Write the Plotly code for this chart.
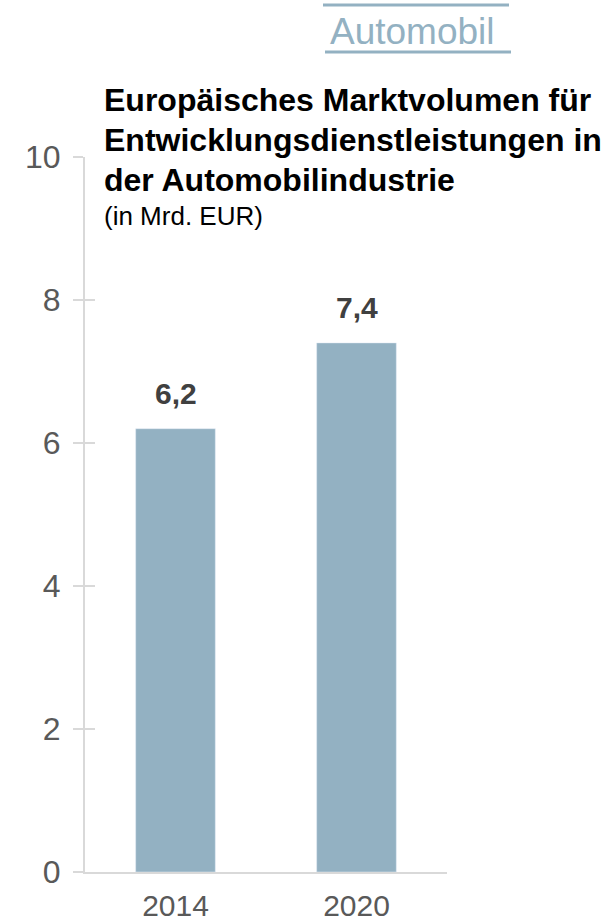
import plotly.graph_objects as go

# Market volume data
years = ["2014", "2020"]
volumes = [6.2, 7.4]
value_labels = ["6,2", "7,4"]

title_lines = [
    "Europäisches Marktvolumen für",
    "Entwicklungsdienstleistungen in",
    "der Automobilindustrie",
]
subtitle = "(in Mrd. EUR)"
section_label = "Automobil"

BAR_COLOR = "#93b1c2"
AXIS_COLOR = "#d9d9d9"
TICK_FONT_COLOR = "#595959"
FONT = "Liberation Sans, Arial, sans-serif"

W, H = 615, 923
M_L, M_R, M_T, M_B = 85, 168, 157, 51
plot_h = H - M_T - M_B


def py(px):
    """Convert a pixel row to paper y coordinate."""
    return (H - M_B - px) / plot_h


def px_x(px):
    """Convert a pixel column to paper x coordinate."""
    return (px - M_L) / (W - M_L - M_R)


fig = go.Figure()
fig.add_trace(go.Bar(
    x=years, y=volumes, marker_color=BAR_COLOR, width=0.44,
    hoverinfo="skip", showlegend=False,
))
# invisible trace for the secondary axis carrying inward tick marks
fig.add_trace(go.Scatter(x=years, y=volumes, yaxis="y2", mode="none",
                         showlegend=False, hoverinfo="skip"))

annotations = []
for i, (v, lab) in enumerate(zip(volumes, value_labels)):
    annotations.append(dict(
        x=i, y=v, xref="x", yref="y", text=f"<b>{lab}</b>", showarrow=False,
        yanchor="bottom", yshift=17,
        font=dict(family=FONT, size=30, color="#404040"),
    ))

title_rows = [100, 140, 180]
for line, ypx in zip(title_lines, title_rows):
    annotations.append(dict(
        x=px_x(102), y=py(ypx), xref="paper", yref="paper", xanchor="left",
        yanchor="middle", text=f"<b>{line}</b>", showarrow=False,
        font=dict(family=FONT, size=32, color="#000000"),
    ))
annotations.append(dict(
    x=px_x(102), y=py(216), xref="paper", yref="paper", xanchor="left",
    yanchor="middle", text=subtitle, showarrow=False,
    font=dict(family=FONT, size=26, color="#000000"),
))
annotations.append(dict(
    x=px_x(412), y=py(31), xref="paper", yref="paper", xanchor="center",
    yanchor="middle", text=section_label, showarrow=False,
    font=dict(family=FONT, size=37, color=BAR_COLOR),
))

shapes = [
    dict(type="line", xref="paper", yref="paper", x0=px_x(323), x1=px_x(509),
         y0=py(5), y1=py(5), line=dict(color=BAR_COLOR, width=3)),
    dict(type="line", xref="paper", yref="paper", x0=px_x(325), x1=px_x(511),
         y0=py(52), y1=py(52), line=dict(color=BAR_COLOR, width=3)),
]

fig.update_layout(
    width=W, height=H,
    margin=dict(l=M_L, r=M_R, t=M_T, b=M_B, autoexpand=False),
    paper_bgcolor="white", plot_bgcolor="white",
    font=dict(family=FONT),
    annotations=annotations, shapes=shapes,
    xaxis=dict(
        type="category", automargin=False,
        showline=True, linecolor=AXIS_COLOR, linewidth=2, showgrid=False,
        ticks="", tickfont=dict(size=30, color=TICK_FONT_COLOR),
        ticklabelstandoff=6, range=[-0.5, 1.5], fixedrange=True,
    ),
    yaxis=dict(
        automargin=False,
        range=[0, 10], dtick=2, showline=True, linecolor=AXIS_COLOR,
        linewidth=2, showgrid=False, zeroline=False,
        ticks="outside", ticklen=10, tickwidth=2, tickcolor=AXIS_COLOR,
        tickfont=dict(size=32, color=TICK_FONT_COLOR),
        ticklabelstandoff=6, fixedrange=True,
    ),
    yaxis2=dict(
        automargin=False,
        range=[0, 10], dtick=2, overlaying="y", side="left",
        showline=False, showgrid=False, zeroline=False,
        ticks="inside", ticklen=10, tickwidth=2, tickcolor=AXIS_COLOR,
        showticklabels=False, fixedrange=True,
    ),
)

fig.write_html("out.html", config={"displayModeBar": False})
